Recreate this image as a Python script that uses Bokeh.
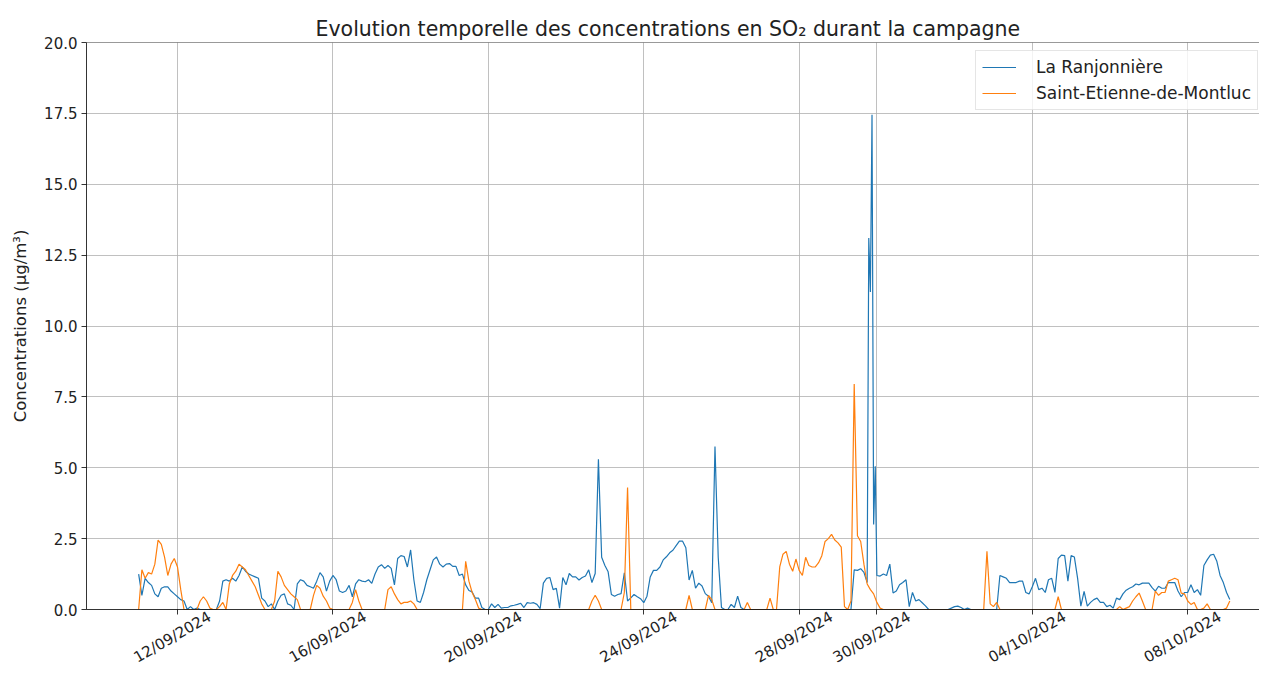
import math
from datetime import datetime, timedelta
from bokeh.plotting import figure
from bokeh.models import (Range1d, FixedTicker, PrintfTickFormatter, DatetimeAxis,
                          DatetimeTickFormatter, CustomJSTickFormatter, Span)
from bokeh.embed import file_html
from bokeh.resources import INLINE

# ---------------- data (2-hour steps from 11/09/2024 00:00) ----------------
start_time = datetime(2024, 9, 11, 0, 0)
step_hours = 2

ranjonniere = [
    1.25, 0.5, 1.1, 0.95, 0.85, 0.55, 0.45, 0.75, 0.8, 0.8, 0.65, 0.55,
    0.45, 0.35, 0.3, 0.0, 0.1, 0.0, 0.05, 0.0, 0.0, 0.0, 0.0, 0.0,
    0.0, 0.3, 1.0, 1.05, 1.0, 1.1, 1.0, 1.2, 1.5, 1.35, 1.25, 1.2,
    1.15, 1.1, 0.4, 0.3, 0.1, 0.2, 0.0, 0.3, 0.5, 0.55, 0.2, 0.15,
    0.0, 0.9, 1.05, 1.0, 0.85, 0.8, 0.75, 1.0, 1.3, 1.15, 0.65, 1.0,
    1.2, 1.05, 0.65, 0.6, 0.65, 0.85, 0.45, 0.9, 1.05, 1.0, 0.98, 1.05,
    0.92, 1.25, 1.5, 1.58, 1.45, 1.55, 1.45, 0.87, 1.8, 1.9, 1.87, 1.5,
    2.1, 1.05, 0.3, 0.25, 0.6, 1.05, 1.4, 1.75, 1.85, 1.6, 1.5, 1.6,
    1.62, 1.52, 1.52, 1.2, 1.25, 0.87, 0.67, 0.62, 0.4, 0.4, 0.07, 0.0,
    0.0, 0.2, 0.07, 0.18, 0.05, 0.07, 0.07, 0.13, 0.15, 0.18, 0.22, 0.07,
    0.24, 0.22, 0.24, 0.18, 0.03, 0.93, 1.1, 1.13, 0.7, 0.75, 0.05, 1.13,
    0.87, 1.27, 1.15, 1.15, 1.04, 1.13, 1.18, 1.4, 0.95, 1.27, 5.3, 1.84,
    1.55, 1.33, 0.53, 0.47, 0.53, 0.56, 1.29, 0.3, 0.41, 0.53, 0.45, 0.38,
    0.24, 0.47, 1.15, 1.38, 1.38, 1.5, 1.75, 1.86, 2.0, 2.09, 2.25, 2.41,
    2.41, 2.18, 1.04, 1.38, 0.75, 0.93, 0.83, 0.56, 0.47, 0.24, 5.75, 1.84,
    0.07, 0.0, 0.0, 0.18, 0.07, 0.47, 0.07, 0.0, 0.0, 0.0, 0.0, 0.0,
    0.0, 0.0, 0.0, 0.0, 0.0, 0.0, 0.0, 0.0, 0.0, 0.0, 0.0, 0.0,
    0.0, 0.0, 0.0, 0.0, 0.0, 0.0, 0.0, 0.0, 0.0, 0.0, 0.0, 0.0,
    0.0, 0.0, 0.0, 0.0, 0.0, 1.4, 1.38, 1.44, 1.31, 0.95, 11.2, 3.0,
    1.2, 1.18, 1.25, 1.2, 1.6, 0.58, 0.65, 0.87, 0.95, 1.05, 0.1, 0.6,
    0.3, 0.35, 0.24, 0.13, 0.0, 0.0, 0.0, 0.0, 0.0, 0.0, 0.0, 0.05,
    0.1, 0.12, 0.07, 0.0, 0.05, 0.0, 0.0, 0.0, 0.0, 0.0, 0.0, 0.0,
    0.0, 0.0, 1.2, 1.15, 1.1, 0.95, 0.95, 0.95, 1.0, 1.0, 0.6, 0.55,
    0.8, 1.1, 0.7, 0.75, 0.6, 1.05, 1.1, 0.6, 1.8, 1.92, 1.9, 1.0,
    1.9, 1.85, 1.1, 0.12, 0.64, 0.12, 0.25, 0.35, 0.4, 0.25, 0.25, 0.1,
    0.15, 0.05, 0.4, 0.35, 0.55, 0.68, 0.75, 0.8, 0.9, 0.87, 0.93, 0.93,
    0.93, 0.77, 0.65, 0.82, 0.75, 0.75, 0.95, 0.95, 0.95, 0.65, 0.45, 0.6,
    0.6, 0.87, 0.6, 0.7, 0.5, 1.55, 1.75, 1.92, 1.95, 1.7, 1.2, 0.95,
    0.6, 0.35,
]
# extra readings of the 29/09 peak (hours after start)
ranjonniere_peak_hours = [451, 453, 455]
ranjonniere_peak_values = [13.1, 17.45, 5.05]

montluc = [
    0.0, 1.4, 1.1, 1.3, 1.25, 1.6, 2.45, 2.3, 1.85, 1.2, 1.6, 1.8,
    1.5, 0.7, 0.0, 0.0, 0.0, 0.0, 0.0, 0.3, 0.45, 0.3, 0.05, 0.0,
    0.0, 0.1, 0.25, 0.0, 0.9, 1.2, 1.35, 1.6, 1.5, 1.4, 1.2, 1.0,
    0.8, 0.5, 0.2, 0.0, 0.0, 0.0, 0.3, 1.35, 1.15, 0.85, 0.7, 0.55,
    0.45, 0.35, 0.0, 0.0, 0.0, 0.0, 0.5, 0.85, 0.75, 0.47, 0.3, 0.05,
    0.0, 0.0, 0.0, 0.0, 0.0, 0.0, 0.25, 0.7, 0.3, 0.0, 0.0, 0.0,
    0.0, 0.0, 0.0, 0.0, 0.0, 0.7, 0.8, 0.55, 0.35, 0.2, 0.25, 0.25,
    0.3, 0.2, 0.0, 0.0, 0.0, 0.0, 0.0, 0.0, 0.0, 0.0, 0.0, 0.0,
    0.0, 0.0, 0.0, 0.0, 0.0, 1.7, 1.0, 0.6, 0.35, 0.05, 0.0, 0.0,
    0.0, 0.0, 0.0, 0.0, 0.0, 0.0, 0.0, 0.0, 0.0, 0.0, 0.0, 0.0,
    0.0, 0.0, 0.0, 0.0, 0.0, 0.0, 0.0, 0.0, 0.0, 0.0, 0.0, 0.0,
    0.0, 0.0, 0.0, 0.0, 0.0, 0.0, 0.0, 0.0, 0.3, 0.5, 0.3, 0.0,
    0.0, 0.0, 0.0, 0.0, 0.0, 0.0, 0.6, 4.3, 0.0, 0.0, 0.0, 0.0,
    0.0, 0.0, 0.0, 0.0, 0.0, 0.0, 0.0, 0.0, 0.0, 0.0, 0.0, 0.0,
    0.0, 0.0, 0.5, 0.0, 0.0, 0.0, 0.0, 0.0, 0.5, 0.35, 0.0, 0.0,
    0.0, 0.0, 0.0, 0.0, 0.0, 0.0, 0.0, 0.0, 0.25, 0.0, 0.0, 0.0,
    0.0, 0.0, 0.0, 0.4, 0.0, 0.0, 1.5, 1.95, 2.05, 1.6, 1.35, 1.78,
    1.38, 1.2, 1.84, 1.55, 1.5, 1.5, 1.65, 1.9, 2.4, 2.5, 2.65, 2.45,
    2.35, 2.2, 0.1, 0.0, 0.3, 7.95, 2.6, 2.4, 1.6, 0.9, 0.7, 0.55,
    0.25, 0.05, 0.0, 0.0, 0.0, 0.0, 0.0, 0.0, 0.0, 0.0, 0.0, 0.0,
    0.0, 0.0, 0.0, 0.0, 0.0, 0.0, 0.0, 0.0, 0.0, 0.0, 0.0, 0.0,
    0.0, 0.0, 0.0, 0.0, 0.0, 0.0, 0.0, 0.0, 0.0, 0.0, 2.05, 0.2,
    0.1, 0.25, 0.0, 0.0, 0.0, 0.0, 0.0, 0.0, 0.0, 0.0, 0.0, 0.0,
    0.0, 0.0, 0.0, 0.0, 0.0, 0.0, 0.0, 0.0, 0.45, 0.0, 0.0, 0.0,
    0.0, 0.0, 0.0, 0.0, 0.0, 0.0, 0.0, 0.0, 0.0, 0.0, 0.0, 0.0,
    0.0, 0.0, 0.0, 0.1, 0.0, 0.05, 0.1, 0.3, 0.45, 0.58, 0.3, 0.0,
    0.0, 0.0, 0.65, 0.5, 0.6, 0.6, 1.0, 1.05, 1.1, 1.05, 0.58, 0.55,
    0.3, 0.18, 0.25, 0.0, 0.0, 0.05, 0.2, 0.0, 0.0, 0.0, 0.0, 0.0,
    0.05, 0.3,
]

series_names = ["La Ranjonnière", "Saint-Etienne-de-Montluc"]
series_colors = ["#1f77b4", "#ff7f0e"]

x_tick_dates = [datetime(2024, 9, 12), datetime(2024, 9, 16), datetime(2024, 9, 20),
                datetime(2024, 9, 24), datetime(2024, 9, 28), datetime(2024, 9, 30),
                datetime(2024, 10, 4), datetime(2024, 10, 8)]
x_tick_labels = ["12/09/2024", "16/09/2024", "20/09/2024", "24/09/2024",
                 "28/09/2024", "30/09/2024", "04/10/2024", "08/10/2024"]
y_ticks = [0, 2.5, 5, 7.5, 10, 12.5, 15, 17.5, 20]

title_text = "Evolution temporelle des concentrations en SO₂ durant la campagne"
y_label = "Concentrations (µg/m³)"

# ---------------- build series ----------------
def series_points(vals, extra_hours=(), extra_vals=()):
    pts = [(start_time + timedelta(hours=step_hours * k), v) for k, v in enumerate(vals)]
    pts += [(start_time + timedelta(hours=h), v) for h, v in zip(extra_hours, extra_vals)]
    pts.sort(key=lambda t: t[0])
    return [t for t, _ in pts], [v for _, v in pts]

rx, ry = series_points(ranjonniere, ranjonniere_peak_hours, ranjonniere_peak_values)
mx, my = series_points(montluc)

FONT = "DejaVu Sans"
TXT = "#222222"

x_lo = datetime(2024, 9, 9, 15, 47)
x_hi = datetime(2024, 10, 9, 20, 21)
# labels are drawn right-aligned at their anchor: a second, shifted scale puts the
# anchor to the right of the tick so each rotated label sits centred under it
label_shift = timedelta(hours=20)

p = figure(width=1259, height=677, x_axis_type="datetime",
           output_backend="svg", toolbar_location=None,
           x_range=Range1d(x_lo, x_hi), y_range=Range1d(0, 20),
           min_border_left=86, min_border_right=0, min_border_top=42, min_border_bottom=60)
p.extra_x_ranges = {"labels": Range1d(x_lo - label_shift, x_hi - label_shift)}

p.background_fill_color = "white"
p.border_fill_color = "white"
p.outline_line_color = None

p.title.text = title_text
p.title.align = "left"
p.title.offset = 229
p.title.standoff = 3
p.title.text_font = FONT
p.title.text_font_size = "20.5px"
p.title.text_font_style = "normal"
p.title.text_color = TXT

tick_ms = [(d - datetime(1970, 1, 1)).total_seconds() * 1000 for d in x_tick_dates]
p.xaxis.ticker = FixedTicker(ticks=tick_ms)
p.xaxis.formatter = CustomJSTickFormatter(code="return ''")
p.xgrid.ticker = FixedTicker(ticks=tick_ms)
p.yaxis.ticker = FixedTicker(ticks=y_ticks)
p.ygrid.ticker = FixedTicker(ticks=y_ticks)
p.yaxis.formatter = PrintfTickFormatter(format="%.1f")

for ax in (p.xaxis, p.yaxis):
    ax.axis_line_color = "black"
    ax.axis_line_width = 0.8
    ax.major_tick_line_color = "black"
    ax.major_tick_line_width = 0.8
    ax.major_tick_in = 0
    ax.major_tick_out = 5
    ax.minor_tick_line_color = None
    ax.major_label_text_font = FONT
    ax.major_label_text_font_size = "15px"
    ax.major_label_text_color = TXT

p.xaxis.major_label_text_font_size = "0px"
p.xaxis.major_label_standoff = 0

p.yaxis.major_label_standoff = 4
p.yaxis.axis_label = y_label
p.yaxis.axis_label_text_font = FONT
p.yaxis.axis_label_text_font_size = "16.5px"
p.yaxis.axis_label_text_font_style = "normal"
p.yaxis.axis_label_text_color = TXT
p.yaxis.axis_label_standoff = 11

date_fmt = "%d/%m/%Y"
lab_axis = DatetimeAxis(
    x_range_name="labels",
    ticker=FixedTicker(ticks=tick_ms),
    formatter=DatetimeTickFormatter(hours=date_fmt, hourmin=date_fmt, days=date_fmt,
                                    months=date_fmt, years=date_fmt),
    major_label_overrides={int(ms): t for ms, t in zip(tick_ms, x_tick_labels)},
    major_label_orientation=math.radians(30),
    major_label_standoff=1,
    major_label_text_font=FONT, major_label_text_font_size="15px",
    major_label_text_color=TXT,
    axis_line_color=None, major_tick_line_color=None, minor_tick_line_color=None,
    major_tick_in=0, major_tick_out=0)
p.add_layout(lab_axis, "below")

for g in (p.xgrid, p.ygrid):
    g.grid_line_color = "#b0b0b0"
    g.grid_line_width = 0.8

p.add_layout(Span(location=20, dimension="width", line_color="black", line_width=0.8))

p.line(rx, ry, line_color=series_colors[0], line_width=1.2, legend_label=series_names[0])
p.line(mx, my, line_color=series_colors[1], line_width=1.2, legend_label=series_names[1])

lg = p.legend[0]
lg.location = (889, 499)
lg.label_text_font = FONT
lg.label_text_font_size = "17px"
lg.label_text_color = TXT
lg.border_line_color = "#cccccc"
lg.border_line_width = 1
lg.background_fill_alpha = 0.8
lg.glyph_width = 34
lg.glyph_height = 20
lg.label_height = 20
lg.label_standoff = 20
lg.padding = 6
lg.spacing = 6
lg.margin = 0

open("out.html", "w").write(file_html(p, INLINE))
